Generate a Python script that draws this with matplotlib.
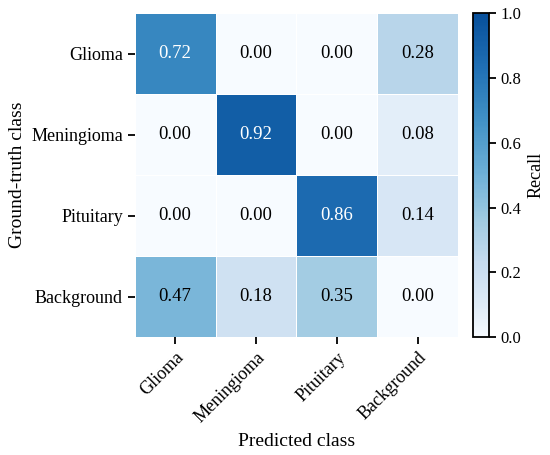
import numpy as np
import matplotlib
matplotlib.use('Agg')
import matplotlib.pyplot as plt
from matplotlib.colors import ListedColormap

plt.rcParams['font.family'] = ['Liberation Serif', 'DejaVu Serif']

classes = ['Glioma', 'Meningioma', 'Pituitary', 'Background']
recall = np.array([
    [0.72, 0.00, 0.00, 0.28],
    [0.00, 0.92, 0.00, 0.08],
    [0.00, 0.00, 0.86, 0.14],
    [0.47, 0.18, 0.35, 0.00],
])

# softer Blues: stop short of the darkest navy
x = np.linspace(0, 1, 256)
cmap = ListedColormap(plt.get_cmap('Blues')(0.88 * x ** 0.85))

fig = plt.figure(figsize=(5.5, 4.55), dpi=100)
ax = fig.add_axes([0.245, 0.259, 0.588, 0.712])
cax = fig.add_axes([0.860, 0.259, 0.029, 0.712])

n = len(classes)
mesh = ax.pcolormesh(np.arange(n + 1), np.arange(n + 1), recall,
                     cmap=cmap, vmin=0, vmax=1,
                     edgecolors='white', linewidth=0.5)
ax.set_xlim(0, n); ax.set_ylim(n, 0)
for s in ax.spines.values():
    s.set_visible(False)

for i in range(n):
    for j in range(n):
        v = recall[i, j]
        ax.text(j + 0.5, i + 0.5, f'{v:.2f}', ha='center', va='center',
                fontsize=13.5, color='white' if v > 0.6 else 'black')

ax.set_xticks(np.arange(n) + 0.5)
ax.set_yticks(np.arange(n) + 0.5)
ax.set_xticklabels(classes, rotation=45, ha='right', rotation_mode='anchor',
                   fontsize=13)
ax.set_yticklabels(classes, fontsize=13)
ax.tick_params(length=5, width=1.3)
ax.set_xlabel('Predicted class', fontsize=14, labelpad=5)
ax.set_ylabel('Ground-truth class', fontsize=14)

cb = fig.colorbar(mesh, cax=cax)
cb.set_ticks(np.linspace(0, 1, 6))
cb.ax.tick_params(labelsize=12, length=5, width=1.3)
cb.outline.set_linewidth(1.3)
cb.set_label('Recall', fontsize=13)

fig.savefig('out.png', dpi=100)
